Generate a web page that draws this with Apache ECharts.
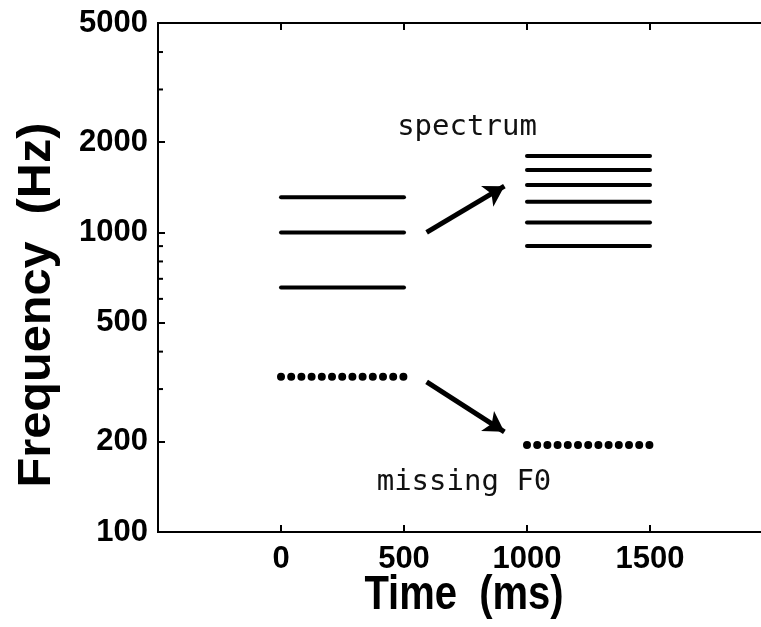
<!DOCTYPE html>
<html>
<head>
<meta charset="utf-8">
<script src="https://cdn.jsdelivr.net/npm/echarts@6/dist/echarts.min.js"></script>
<style>
  html, body { margin: 0; padding: 0; background: #fff; }
  #chart { width: 761px; height: 627px; }
</style>
</head>
<body>
<div id="chart"></div>
<script>
// Two complex tones: each component is held for 500 ms (frequencies in Hz).
const firstSpan = [0, 500];
const secondSpan = [1000, 1500];
const firstHarmonics = [655, 1000, 1310];
const secondHarmonics = [900, 1080, 1265, 1440, 1615, 1800];
const firstF0 = 330;   // missing fundamental of the first tone
const secondF0 = 195;  // missing fundamental of the second tone

// Arrows: [startTime, startFreq, endTime, endFreq]
const spectrumArrow = [592, 1000, 908, 1427];
const f0Arrow = [592, 317, 908, 216];

// Axis ranges, ticks and labels
const timeRange = [-500, 2000];
const freqRange = [100, 5000];
const freqLabels = [100, 200, 500, 1000, 2000, 5000];
const freqMinorTicks = [300, 400, 600, 700, 800, 900, 3000, 4000];
const timeLabels = [0, 500, 1000, 1500];

const INK = '#000';
const SANS = '"Liberation Sans", Arial, sans-serif';
const MONO = '"DejaVu Sans Mono", monospace';

function tone(span, f, width, dash) {
  return {
    type: 'line',
    data: [[span[0], f], [span[1], f]],
    symbol: 'none',
    silent: true,
    lineStyle: { color: INK, width: width, type: dash, cap: 'round' }
  };
}

const series = [
  ...firstHarmonics.map(f => tone(firstSpan, f, 4, 'solid')),
  ...secondHarmonics.map(f => tone(secondSpan, f, 4, 'solid')),
  tone(firstSpan, firstF0, 8, [0, 10.2]),
  tone(secondSpan, secondF0, 8, [0, 10.2]),
  // Plot frame: top, left and bottom edges
  {
    type: 'custom',
    silent: true,
    clip: false,
    data: [[timeRange[0], freqRange[0], timeRange[1], freqRange[1]]],
    renderItem: function (params, api) {
      const lo = api.coord([api.value(0), api.value(1)]);
      const hi = api.coord([api.value(2), api.value(3)]);
      return {
        type: 'polyline',
        shape: { points: [[hi[0], hi[1]], [lo[0], hi[1]], [lo[0], lo[1]], [hi[0], lo[1]]] },
        style: { stroke: INK, lineWidth: 2, fill: 'none' }
      };
    }
  },
  // Short inward ticks on the frequency axis between the labelled values
  {
    type: 'custom',
    silent: true,
    clip: false,
    data: freqMinorTicks.map(f => [timeRange[0], f]),
    renderItem: function (params, api) {
      const p = api.coord([api.value(0), api.value(1)]);
      return {
        type: 'line',
        shape: { x1: p[0], y1: p[1], x2: p[0] + 5, y2: p[1] },
        style: { stroke: INK, lineWidth: 2 }
      };
    }
  }
];

// Arrows from the first tone to the second
series[0].markLine = {
  silent: true,
  animation: false,
  symbol: ['none', 'arrow'],
  symbolSize: [18, 20],
  label: { show: false },
  lineStyle: { color: INK, width: 5, type: 'solid' },
  data: [
    [{ coord: spectrumArrow.slice(0, 2) }, { coord: spectrumArrow.slice(2) }],
    [{ coord: f0Arrow.slice(0, 2) }, { coord: f0Arrow.slice(2) }]
  ]
};

const plain = v => String(Math.round(v));

function hiddenLine() {
  return { show: false, onZero: false };
}
function ticks(values, len) {
  return { show: true, inside: true, length: len, customValues: values,
           lineStyle: { color: INK, width: 2 } };
}
function labels(values, margin) {
  return { customValues: values, formatter: plain, margin: margin,
           fontFamily: SANS, fontSize: 31, fontWeight: 'bold', color: INK };
}

const chart = echarts.init(document.getElementById('chart'));

chart.setOption({
  animation: false,
  grid: { show: false, left: 158, top: 23, bottom: 95, right: -12, outerBoundsMode: 'none' },
  xAxis: [
    { type: 'value', position: 'bottom', min: timeRange[0], max: timeRange[1], interval: 500,
      axisLine: hiddenLine(), axisTick: ticks(timeLabels, 7), axisLabel: labels(timeLabels, 12),
      splitLine: { show: false } },
    { type: 'value', position: 'top', min: timeRange[0], max: timeRange[1], interval: 500,
      axisLine: hiddenLine(), axisTick: ticks(timeLabels, 7), axisLabel: { show: false },
      splitLine: { show: false } }
  ],
  yAxis: [
    { type: 'log', min: freqRange[0], max: freqRange[1], position: 'left',
      axisLine: hiddenLine(), axisTick: ticks(freqLabels, 7), axisLabel: labels(freqLabels, 10),
      splitLine: { show: false } }
  ],
  graphic: [
    { type: 'text', x: 464, y: 596, scaleX: 0.833, silent: true,
      style: { text: 'Time  (ms)', fontFamily: SANS, fontWeight: 'bold', fontSize: 48,
               fill: INK, align: 'center', verticalAlign: 'middle' } },
    { type: 'text', x: 37, y: 305, rotation: Math.PI / 2, scaleX: 1.035, silent: true,
      style: { text: 'Frequency  (Hz)', fontFamily: SANS, fontWeight: 'bold', fontSize: 47,
               fill: INK, align: 'center', verticalAlign: 'middle' } },
    { type: 'text', x: 467, y: 127.5, silent: true,
      style: { text: 'spectrum', fontFamily: MONO, fontSize: 29, fill: '#111',
               align: 'center', verticalAlign: 'middle' } },
    { type: 'text', x: 464, y: 482.5, silent: true,
      style: { text: 'missing F0', fontFamily: MONO, fontSize: 29, fill: '#111',
               align: 'center', verticalAlign: 'middle' } }
  ],
  series: series
});
</script>
</body>
</html>
